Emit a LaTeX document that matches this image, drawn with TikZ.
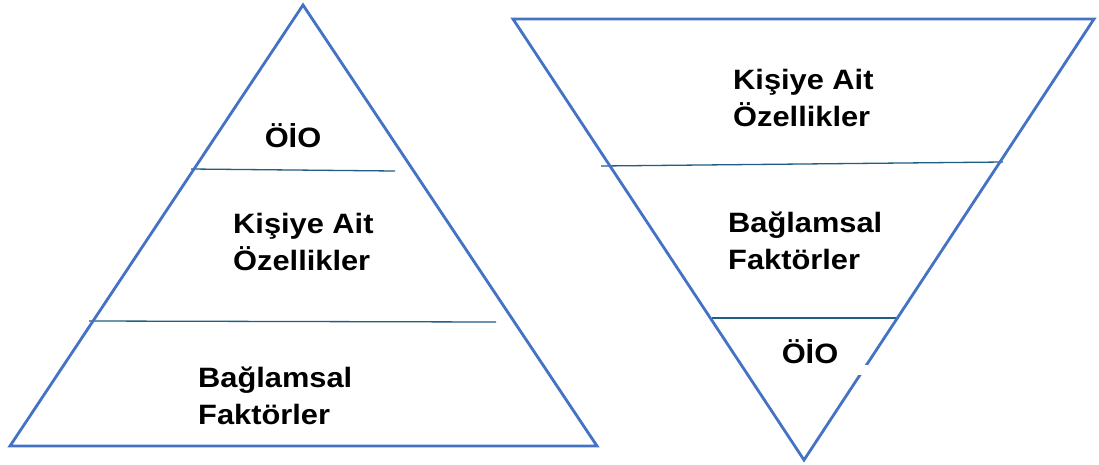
\documentclass[tikz,border=0pt]{standalone}
\usepackage{fontspec}
\setmainfont{Liberation Sans}
\newfontfamily\lab[FakeStretch=1.1]{Liberation Sans}
\definecolor{tric}{RGB}{68,114,196}
\definecolor{sepc}{RGB}{31,95,130}
\begin{document}
\begin{tikzpicture}[x=1pt,y=-1pt,
  tri/.style={draw=tric, line width=2.8pt, line join=miter},
  sep/.style={draw=sepc, line width=1.3pt},
  lbl/.style={font=\lab\bfseries\fontsize{28}{37}\selectfont, inner sep=0pt, align=left, anchor=base west},
  lblc/.style={font=\lab\bfseries\fontsize{28}{37}\selectfont, inner sep=0pt, anchor=base}]
\useasboundingbox[fill=white] (0,0) rectangle (1099,464);
% left pyramid
\coordinate (LA) at (303,5);
\coordinate (LB) at (10,446);
\coordinate (LC) at (597,446);
\coordinate (L1a) at (191,169);
\coordinate (L1b) at (395,171);
\coordinate (L2a) at (89,321);
\coordinate (L2b) at (496,322);
\draw[sep] (L1a) -- (L1b);
\draw[sep] (L2a) -- (L2b);
\draw[tri] (LA) -- (LB) -- (LC) -- cycle;
\node[lblc] (lo) at (293,147) {ÖİO};
\node[lbl] (lk) at (233,270) {Kişiye Ait\\Özellikler};
\node[lbl] (lb) at (198,424) {Bağlamsal\\Faktörler};
% right inverted pyramid
\coordinate (RA) at (513,19);
\coordinate (RB) at (1094,19);
\coordinate (RC) at (804,460);
\coordinate (R1a) at (601,166);
\coordinate (R1b) at (1003,162);
\coordinate (R2a) at (712,318);
\coordinate (R2b) at (899,318);
\draw[sep] (R1a) -- (R1b);
\draw[sep] (R2a) -- (R2b);
\draw[tri] (RA) -- (RB) -- (RC) -- cycle;
\fill[white] (858,365) rectangle (868,375);
\node[lbl] (rk) at (733,126) {Kişiye Ait\\Özellikler};
\node[lbl] (rb) at (728,269) {Bağlamsal\\Faktörler};
\node[lblc] (ro) at (810,363) {ÖİO};
\end{tikzpicture}
\end{document}
